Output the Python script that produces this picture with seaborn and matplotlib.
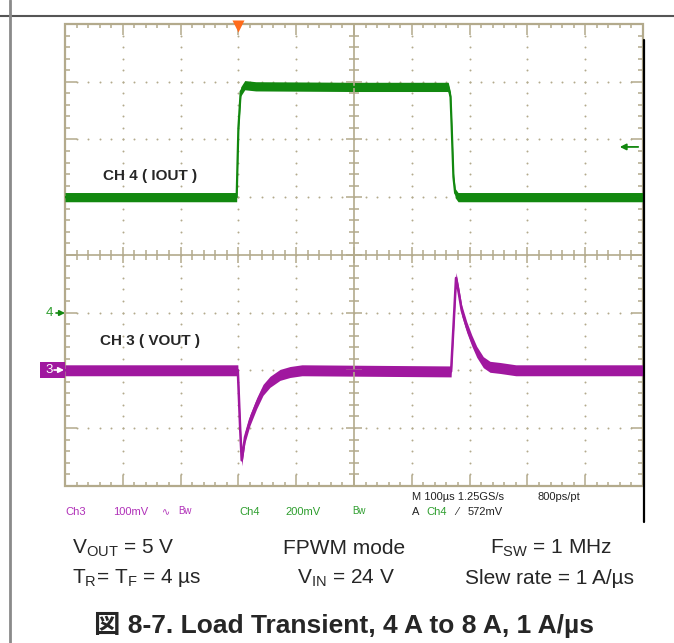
import matplotlib.pyplot as plt
import numpy as np
import seaborn as sns
from matplotlib.collections import LineCollection
from matplotlib.lines import Line2D
from matplotlib.patches import FancyArrowPatch, Rectangle

# scope traces: time in us (trigger at 0), level in screen divisions
ch4_time = [-300, -3, 0, 4, 11, 30, 200, 363, 367, 369, 372, 375, 380, 700]
ch4_level = [1.0, 1.0, 2.2, 2.83, 2.94, 2.92, 2.91, 2.91, 2.74, 2.22, 1.35, 1.07, 1.0, 1.0]

ch3_time = [-300, -1, 3, 5.7, 11.4, 20.1, 31.7, 42.6, 54.7, 72, 89.3, 110,
            368, 373, 376.5, 380.4, 386.3, 395, 403.6, 412.3, 423.7, 435.3, 452.6, 480, 700]
ch3_level = [-2.0, -2.0, -3.0, -3.56, -3.16, -2.86, -2.57, -2.34, -2.20, -2.08, -2.03, -2.0,
             -2.02, -1.07, -0.40, -0.61, -0.96, -1.25, -1.48, -1.68, -1.86, -1.94, -1.96, -2.0, -2.0]

status_left = ["Ch3", "100mV", "Ch4", "200mV"]
captions_row1 = ["V$_{\\mathregular{OUT}}$ = 5 V", "FPWM mode", "F$_{\\mathregular{SW}}$ = 1 MHz"]
captions_row2 = ["T$_{\\mathregular{R}}$= T$_{\\mathregular{F}}$ = 4 µs", "V$_{\\mathregular{IN}}$ = 24 V",
                 "Slew rate = 1 A/µs"]
title = "図 8-7. Load Transient, 4 A to 8 A, 1 A/µs"

W, H = 674, 643


def fx(x):
    return x / W


def fy(y):
    return 1 - y / H


sns.set_theme(style="white")
plt.rcParams['font.family'] = ['Liberation Sans', 'DejaVu Sans', 'Noto Sans CJK JP']

GRID = '#b3aa8c'
GREEN = '#12880f'
PURPLE = '#a0189f'
GREEN_TXT = '#2e9e2e'
PURPLE_TXT = '#b030b8'

fig = plt.figure(figsize=(6.74, 6.43), dpi=100)
ax = fig.add_axes([fx(65), fy(485.7), (643 - 65) / W, (485.7 - 24) / H])
ax.set_xlim(-300, 700)
ax.set_ylim(-4, 4)
ax.axis('off')

ux = 1000 / 578    # us per pixel
uy = 8 / 461.7     # div per pixel

minor_t = np.arange(-300, 701, 20)
minor_v = np.round(np.arange(-4, 4.01, 0.2), 2)

# dotted division lines
for t in range(-200, 700, 100):
    if t == 200:
        continue
    ax.scatter(np.full(len(minor_v[1:-1]), t), minor_v[1:-1], s=2, color=GRID, linewidths=0)
for v in range(-3, 4):
    if v == 0:
        continue
    ax.scatter(minor_t[1:-1], np.full(len(minor_t[1:-1]), v), s=2, color=GRID, linewidths=0)

# centre crosshair and border ticks
segs = []
for v in minor_v:
    half = 8 if abs(v - round(v)) < 1e-6 else 5
    segs.append([(200 - half * ux, v), (200 + half * ux, v)])
    L = 12 if abs(v - round(v)) < 1e-6 else 5
    segs.append([(-300, v), (-300 + L * ux, v)])
    segs.append([(700, v), (700 - L * ux, v)])
for t in minor_t:
    half = 8 if t % 100 == 0 else 5
    segs.append([(t, -half * uy), (t, half * uy)])
    L = 11 if t % 100 == 0 else 4
    segs.append([(t, 4), (t, 4 - L * uy)])
    segs.append([(t, -4), (t, -4 + L * uy)])
ax.add_collection(LineCollection(segs, colors=GRID, linewidths=1.1))
ax.axvline(200, color=GRID, lw=1.2)
ax.axhline(0, color=GRID, lw=1.2)
ax.add_patch(Rectangle((-300, -4), 1000, 8, fill=False, ec=GRID, lw=1.6, clip_on=False))

# traces
t4, v4 = np.array(ch4_time), np.array(ch4_level)
t3, v3 = np.array(ch3_time), np.array(ch3_level)
ax.fill_between(t4, v4 - 0.08, v4 + 0.08, color=GREEN, lw=0)
sns.lineplot(x=t4, y=v4, ax=ax, color=GREEN, linewidth=1.6, estimator=None)
ax.fill_between(t3, v3 - 0.095, v3 + 0.095, color=PURPLE, lw=0)
sns.lineplot(x=t3, y=v3, ax=ax, color=PURPLE, linewidth=1.8, estimator=None)
ax.set_xlim(-300, 700)
ax.set_ylim(-4, 4)

ax.text(-234, 1.37, "CH 4 ( IOUT )", fontsize=11, fontweight='bold', va='center')
ax.text(-239, -1.49, "CH 3 ( VOUT )", fontsize=11, fontweight='bold', va='center')

# trigger position and level markers
ax.plot(0, 4 - 2 * uy, marker='v', color='#ff6a1a', ms=8, mec='none', clip_on=False)
ax.annotate('', xy=(700 - 26 * ux, 1.87), xytext=(700 - 2 * ux, 1.87),
            arrowprops=dict(arrowstyle='-|>', color=GREEN, lw=1.3, mutation_scale=9))

# channel ground markers on the left edge
fig.text(fx(46), fy(313), "4", color=GREEN_TXT, fontsize=9.5, va='center')
fig.add_artist(FancyArrowPatch((fx(56), fy(313)), (fx(65), fy(313)), transform=fig.transFigure,
                               arrowstyle='-|>', color=GREEN, lw=1.2, mutation_scale=8,
                               shrinkA=0, shrinkB=0, zorder=5))
fig.add_artist(Rectangle((fx(40), fy(378)), 25 / W, 16 / H, transform=fig.transFigure,
                         color=PURPLE, lw=0, zorder=4))
fig.text(fx(45), fy(370), "3", color='white', fontsize=9.5, va='center', zorder=6)
fig.add_artist(FancyArrowPatch((fx(54), fy(370)), (fx(64), fy(370)), transform=fig.transFigure,
                               arrowstyle='-|>', color='white', lw=1.2, mutation_scale=8,
                               shrinkA=0, shrinkB=0, zorder=6))

# scope status line
fs = 8
fig.text(fx(65), fy(512), status_left[0], color=PURPLE_TXT, fontsize=fs, va='center')
fig.text(fx(113), fy(512), status_left[1], color=PURPLE_TXT, fontsize=fs, va='center')
fig.text(fx(162), fy(512), "∿", color=PURPLE_TXT, fontsize=7, va='center')
fig.text(fx(178), fy(511), "Bw", color=PURPLE_TXT, fontsize=7, va='center')
fig.text(fx(239), fy(512), status_left[2], color=GREEN_TXT, fontsize=fs, va='center')
fig.text(fx(285), fy(512), status_left[3], color=GREEN_TXT, fontsize=fs, va='center')
fig.text(fx(352), fy(511), "Bw", color=GREEN_TXT, fontsize=7, va='center')
fig.text(fx(412), fy(497), "M 100µs 1.25GS/s", color='#222222', fontsize=fs, va='center')
fig.text(fx(538), fy(497), "800ps/pt", color='#222222', fontsize=fs, va='center')
fig.text(fx(412), fy(512), "A", color='#222222', fontsize=fs, va='center')
fig.text(fx(426), fy(512), "Ch4", color=GREEN_TXT, fontsize=fs, va='center')
fig.text(fx(456), fy(512), "⁄", color='#222222', fontsize=fs, va='center')
fig.text(fx(468), fy(512), "572mV", color='#222222', fontsize=fs, va='center')

# page frame
fig.add_artist(Line2D([0, 1], [fy(16), fy(16)], color='#555555', lw=1.5))
fig.add_artist(Line2D([fx(9.5), fx(9.5)], [0, 1], color='#8a8a8a', lw=2))
fig.add_artist(Line2D([fx(644), fx(644)], [fy(40), fy(522)], color='black', lw=1.6))

# captions
for x, s in zip([72, 283, 490], captions_row1):
    fig.text(fx(x), fy(548), s, fontsize=15, va='center')
for x, s in zip([72, 297, 465], captions_row2):
    fig.text(fx(x), fy(578), s, fontsize=15, va='center')
fig.text(fx(343.5), fy(625), title, fontsize=19, fontweight='bold', ha='center', va='center',
         family=['Liberation Sans', 'Noto Sans CJK JP'])

fig.savefig('out.png', dpi=100)
